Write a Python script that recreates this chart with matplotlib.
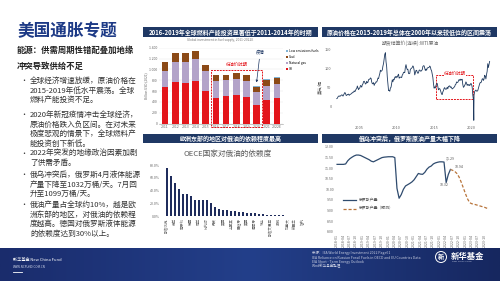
import matplotlib

matplotlib.use("Agg")
import matplotlib.pyplot as plt
import numpy as np
from matplotlib.colors import LinearSegmentedColormap
from matplotlib.patches import Circle, Rectangle

plt.rcParams["font.family"] = ["Noto Sans CJK SC", "DejaVu Sans"]

W, H = 500, 281
NAVY = "#1f3864"

# --- global investment in fuel supply, billion USD (2021)
inv_years = ["2011", "2012", "2013", "2014", "2015", "2016", "2017", "2018", "2019", "2020", "2021", "2022E"]
inv_oil = [667, 767, 748, 785, 611, 473, 505, 537, 499, 350, 436, 473]
inv_gas = [311, 374, 393, 406, 356, 312, 293, 291, 286, 230, 256, 262]
inv_coal = [155, 166, 160, 148, 120, 104, 101, 102, 112, 98, 116, 113]
inv_low = [2, 2, 2, 2, 3, 3, 4, 5, 6, 8, 9, 12]

# --- WTI continuous futures settlement, USD/bbl, monthly from 2002-01
wti_start = 2002
wti = [
    19.7, 20.7, 24.4, 26.2, 27.0, 25.5, 26.9, 28.4, 29.7, 28.9, 26.3, 29.4,
    32.9, 35.9, 33.6, 28.3, 28.1, 30.7, 30.8, 31.6, 28.3, 30.3, 31.1, 32.2,
    34.3, 34.7, 36.8, 36.7, 40.3, 38.0, 40.7, 44.9, 45.9, 53.1, 48.5, 43.3,
    46.8, 48.0, 54.3, 53.0, 50.0, 56.5, 58.7, 64.9, 65.6, 62.4, 58.3, 59.4,
    65.5, 61.6, 62.9, 69.7, 70.9, 71.0, 74.4, 73.1, 63.9, 59.1, 59.0, 62.0,
    54.6, 59.3, 60.4, 64.0, 63.5, 67.5, 74.1, 72.4, 79.9, 85.8, 94.8, 91.7,
    93.0, 95.4, 105.5, 112.6, 125.4, 137.0, 141.0, 116.7, 104.1, 76.6, 57.3, 41.1,
    41.7, 39.1, 47.9, 49.7, 59.0, 69.6, 64.2, 71.1, 69.4, 75.7, 78.0, 74.5,
    78.3, 76.4, 81.2, 84.3, 73.7, 75.3, 76.3, 76.6, 75.2, 81.9, 84.3, 89.2,
    89.2, 88.6, 102.9, 109.5, 100.9, 96.3, 97.3, 86.3, 85.5, 86.3, 97.2, 98.6,
    100.3, 102.2, 106.2, 103.3, 94.7, 82.3, 87.9, 94.1, 94.5, 89.5, 86.5, 87.9,
    94.8, 95.3, 92.9, 92.0, 94.5, 95.8, 104.6, 106.6, 106.3, 100.5, 93.9, 97.6,
    94.6, 100.8, 100.8, 102.1, 102.2, 105.8, 103.6, 96.5, 93.2, 84.4, 75.8, 59.3,
    47.2, 50.6, 47.8, 54.5, 59.3, 59.8, 50.9, 42.9, 45.5, 46.2, 42.4, 37.2,
    31.7, 30.3, 37.5, 40.8, 46.7, 48.8, 44.7, 44.7, 45.2, 49.8, 45.7, 52.0,
    52.5, 53.5, 49.3, 51.1, 48.5, 45.2, 46.6, 48.0, 49.8, 51.6, 56.6, 57.9,
    63.7, 62.2, 62.7, 66.3, 70.0, 67.9, 71.0, 68.1, 70.2, 70.8, 57.0, 49.5,
    51.4, 55.0, 58.2, 63.9, 60.8, 54.7, 57.4, 54.8, 57.0, 54.0, 57.0, 59.9,
    57.5, 50.5, 29.2, 16.6, 28.6, 38.3, 40.7, 42.3, 39.6, 39.4, 41.0, 47.0,
    52.0, 59.0, 62.3, 61.7, 65.2, 71.4, 72.4, 67.7, 71.6, 81.5, 79.2, 71.7,
    83.2, 91.6, 112.0, 101.8, 109.6, 118.0,
]
wti_spike_t = 2020.30
wti_spike = -37.6

# --- OECD reliance on Russian oil
oecd_names = ["斯洛伐克", "立陶宛", "芬兰", "波兰", "匈牙利", "爱沙尼亚", "德国", "捷克", "荷兰",
              "拉脱维亚", "比利时", "希腊", "丹麦", "瑞典", "英国", "法国", "土耳其", "意大利",
              "西班牙", "韩国", "美国", "日本", "葡萄牙", "奥地利", "瑞士", "爱尔兰", "斯洛文尼亚",
              "卢森堡", "挪威", "冰岛", "加拿大", "澳大利亚", "新西兰", "墨西哥", "智利", "以色列"]
oecd_share = [0.756, 0.63, 0.515, 0.42, 0.346, 0.343, 0.315, 0.255, 0.25, 0.25, 0.25, 0.20,
              0.147, 0.115, 0.094, 0.09, 0.085, 0.079, 0.07, 0.065, 0.053, 0.05, 0.04, 0.03,
              0.025, 0.02, 0.015, 0.012, 0.01, 0.008, 0.005, 0.003, 0, 0, 0, 0]

# --- Russia crude + other liquids, million b/d, monthly from 2018-01
ru_start = 2018
ru_actual = [11.18, 11.18, 11.18, 11.18, 11.20, 11.35, 11.45, 11.52, 11.58, 11.62, 11.62, 11.60,
             11.55, 11.50, 11.45, 11.40, 11.33, 11.30, 11.35, 11.40, 11.45, 11.50, 11.52, 11.53,
             11.54, 11.54, 11.54, 11.50, 10.05, 9.58, 9.75, 10.00, 10.16, 10.22, 10.28, 10.35,
             10.45, 10.60, 10.75, 10.72, 10.71, 10.80, 10.95, 11.05, 11.10, 11.20, 11.25, 11.28,
             11.30, 11.30, 11.29, 10.32, 10.70, 10.94]
ru_forecast = [10.94, 10.90, 10.85, 10.75, 10.59, 10.35, 10.08, 9.80, 9.55, 9.37, 9.32, 9.30,
               9.27, 9.24, 9.21, 9.18, 9.15, 9.11, 9.07]

fig = plt.figure(figsize=(W / 100, H / 100), dpi=100)
bg = fig.add_axes([0, 0, 1, 1])
bg.axis("off")


def box(x0, y0, x1, y1):
    return [x0 / W, 1 - y1 / H, (x1 - x0) / W, (y1 - y0) / H]


def header(x0, x1, y0, y1, text):
    bg.add_patch(Rectangle((x0, y0), x1 - x0, y1 - y0, color=NAVY, lw=0))
    bg.text((x0 + x1) / 2, (y0 + y1) / 2 + 0.3, text, color="white", fontsize=4.3,
            fontweight="bold", ha="center", va="center")


# footer band
grad = np.linspace(0, 1, 256)[None, :]
cmap_f = LinearSegmentedColormap.from_list("f", ["#1a2c6c", "#233f8a", "#16275f"])
bg.imshow(grad, extent=(0, W, H, 248), cmap=cmap_f, aspect="auto", zorder=0)
bg.set_xlim(0, W)
bg.set_ylim(H, 0)

# left column text
bg.text(18, 31.5, "美国通胀专题", fontsize=12, color="#1d3a86", fontweight="bold", va="center")
bg.text(17, 50, "能源：供需周期性错配叠加地缘", fontsize=6, color="#222222", fontweight="bold", va="center")
bg.text(17, 66, "冲突导致供给不足", fontsize=6, color="#222222", fontweight="bold", va="center")

bullets = [
    (81, ["全球经济增速放缓，原油价格在", "2015-2019年低水平震荡。全球", "燃料产能投资不足。"]),
    (115, ["2020年新冠疫情冲击全球经济，", "原油价格跌入负区间。在对未来", "极度悲观的情景下，全球燃料产", "能投资创下新低。"]),
    (153.5, ["2022年突发的地缘政治因素加剧", "了供需矛盾。"]),
    (175, ["俄乌冲突后，俄罗斯4月液体能源", "产量下降至1032万桶/天。7月回", "升至1099万桶/天。"]),
    (205, ["俄油产量占全球约10%，越是欧", "洲东部的地区，对俄油的依赖程", "度越高。德国对俄罗斯液体能源", "的依赖度达到30%以上。"]),
]
for y0, lines in bullets:
    bg.text(20, y0, "•", fontsize=5, color="#333333", va="center")
    for k, line in enumerate(lines):
        bg.text(30, y0 + k * 9.6, line, fontsize=5.5, color="#333333", va="center")

# panel headers
header(143, 318, 27, 36.5, "2016-2019年全球燃料产能投资显著低于2011-2014年的时期")
header(322, 497, 27, 36.5, "原油价格在2015-2019年总体在2000年以来较低位的区间震荡")
header(143, 318, 133.5, 143, "欧洲东部的地区对俄油的依赖程度最高")
header(322, 497, 133.5, 143, "俄乌冲突后，俄罗斯原油产量大幅下降")

# panel 1: fuel supply investment
ax1 = fig.add_axes(box(159, 47.7, 283, 123.7))
x = np.arange(len(inv_years))
bottom = np.zeros(len(x))
for vals, col, lab in [(inv_oil, "#e3151b", "Oil"), (inv_gas, "#b3a3c9", "Natural gas"),
                       (inv_coal, "#8c4a17", "Coal"), (inv_low, "#7fb3d5", "Low emissions fuels")]:
    ax1.bar(x, vals, 0.65, bottom=bottom, color=col, label=lab)
    bottom += np.array(vals)
ax1.set_xlim(-0.6, 11.6)
ax1.set_ylim(0, 1400)
ticks = list(range(0, 1401, 200))
ax1.set_yticks(ticks)
ax1.set_yticklabels([f"{v:,}".replace(",", " ") for v in ticks], fontsize=2.5, color="#666666")
ax1.set_xticks(x)
ax1.set_xticklabels(inv_years, fontsize=2.5, color="#666666")
ax1.tick_params(length=0, pad=1)
for s in ["top", "right", "left"]:
    ax1.spines[s].set_visible(False)
ax1.spines["bottom"].set_color("#999999")
ax1.spines["bottom"].set_linewidth(0.4)
ax1.yaxis.grid(True, color="#e6e6e6", lw=0.3)
ax1.set_axisbelow(True)
ax1.set_ylabel("Billion USD (2021)", fontsize=2.3, color="#666666", labelpad=1)
h, l = ax1.get_legend_handles_labels()
ax1.legend(h[::-1], l[::-1], loc="upper left", bbox_to_anchor=(1.01, 1.0), fontsize=2.3,
           frameon=False, handlelength=0.6, handleheight=0.6, labelspacing=0.6,
           borderpad=0, handletextpad=0.4)
ax1.add_patch(Rectangle((4.55, -60), 5.0, 1044, fill=False, ls=(0, (2, 1)), ec="#e3151b",
                        lw=0.7, clip_on=False))
ax1.text(7.1, 1095, "低油价时期", fontsize=3.2, color="#e3151b", ha="center", va="center")
ax1.annotate("疫情", xy=(9.0, 760), xytext=(9.35, 1310), fontsize=3.2, color=NAVY,
             ha="center", va="center", annotation_clip=False,
             arrowprops=dict(arrowstyle="-|>", color=NAVY, lw=0.5, mutation_scale=3,
                             shrinkA=1, shrinkB=0))
bg.text(220, 40.5, "Global investment in fuel supply, 2011-2022E", fontsize=2.3,
        color="#777777", ha="center", va="center")

# panel 2: WTI
ax2 = fig.add_axes(box(333, 49.3, 494, 125))
t = wti_start + np.arange(len(wti)) / 12
ins = np.searchsorted(t, wti_spike_t)
t_all = np.insert(t, ins, wti_spike_t)
v_all = np.insert(np.array(wti), ins, wti_spike)
ax2.plot(t_all, v_all, color="#1f3a5f", lw=0.6)
ax2.set_xlim(2001.5, 2023)
ax2.set_ylim(-50, 150)
ax2.set_yticks([0, 50, 100, 150])
ax2.set_xticks([2005, 2010, 2015, 2020])
ax2.tick_params(labelsize=2.8, labelcolor="#666666", length=0, pad=1)
for s in ax2.spines.values():
    s.set_visible(False)
ax2.set_ylabel("美元/桶", fontsize=3, color="#555555", labelpad=2)
ax2.add_patch(Rectangle((2015.32, 17.6), 4.88, 64, fill=False, ls=(0, (2, 1)), ec="#e3151b", lw=0.7))
ax2.text(2017.8, 86, "低油价时期", fontsize=3.2, color="#e3151b", ha="center", va="center",
         bbox=dict(fc="white", ec="none", pad=0.3))
bg.text(410, 43.5, "期货结算价(连续):WTI原油", fontsize=3.5, color="#666666", ha="center", va="center")

# panel 3: OECD reliance
ax3 = fig.add_axes(box(162, 165.2, 311, 216))
ax3.bar(np.arange(len(oecd_share)), oecd_share, 0.55, color="#1f2c5c")
ax3.set_xlim(-1.25, 36)
ax3.set_ylim(0, 0.8)
ax3.set_yticks([0, 0.2, 0.4, 0.6, 0.8])
ax3.set_yticklabels(["0.0%", "20.0%", "40.0%", "60.0%", "80.0%"])
ax3.set_xticks(np.arange(0, len(oecd_names), 2))
ax3.set_xticklabels(oecd_names[::2], rotation=90)
ax3.tick_params(labelsize=2.6, labelcolor="#666666", length=0, pad=1.5)
for s in ax3.spines.values():
    s.set_visible(False)
bg.text(228, 154, "OECE国家对俄油的依赖度", fontsize=5.5, color="#595959", ha="center", va="center")

# panel 4: Russia production
ax4 = fig.add_axes(box(336, 147, 490, 231.7))
n_act = len(ru_actual)
ax4.plot(np.arange(n_act), ru_actual, color="#2f4b6e", lw=0.9, label="俄罗斯产量")
ax4.plot(np.arange(n_act - 1, n_act - 1 + len(ru_forecast)), ru_forecast, color="#b8743a",
         lw=0.9, ls=(0, (2.5, 1.5)), label="俄罗斯产量（预测）")
n_all = n_act - 1 + len(ru_forecast)
ax4.set_xlim(-0.5, n_all - 0.5)
ax4.set_ylim(8, 12)
ax4.set_yticks(np.arange(8, 12.01, 0.5))
ax4.set_yticklabels([f"{v:.2f}" for v in np.arange(8, 12.01, 0.5)])
mt = np.arange(0, n_all, 3)
ax4.set_xticks(mt)
ax4.set_xticklabels([f"{ru_start + m // 12}-{m % 12 + 1:02d}" for m in mt], rotation=90)
ax4.tick_params(labelsize=2.6, labelcolor="#666666", length=0, pad=1.5)
for s in ax4.spines.values():
    s.set_visible(False)
for idx, dx, dy in [(50, 3, 10), (51, -1, -10), (53, 4, 8)]:
    val = ru_actual[idx]
    ax4.annotate(f"{val:.2f}", xy=(idx, val), xytext=(idx + dx, val + dy * 0.012),
                 fontsize=2.6, color="#555555", ha="center", va="center",
                 arrowprops=dict(arrowstyle="-", color="#999999", lw=0.3))
ax4.legend(loc="upper left", bbox_to_anchor=(0.03, 0.42), fontsize=2.8, frameon=False,
           handlelength=3.5, labelspacing=1.2, borderpad=0, labelcolor="#555555")
bg.text(406, 150.5, "俄罗斯原油及其他液体能源产量（百万桶/天）", fontsize=3.5, color="#666666",
        ha="center", va="center")

# footer text
bg.text(13, 260, "新华基金 New China Fund", fontsize=3, color="white", style="italic", va="center")
bg.text(13, 266.5, "WWW.NCFUND.COM.CN", fontsize=2.2, color="#d0d6ea", va="center")
bg.plot([13, 22], [271.5, 271.5], color="white", lw=0.6)
sources = ["来源：IEA World Energy Investment 2022 Page61",
           "IEA Reliance on Russian Fossil Fuels in OECD and EU Countries Data",
           "EIA Short - Term Energy Outlook",
           "Wind新华基金整理"]
for k, line in enumerate(sources):
    bg.text(312, 253.3 + k * 4.3, line, fontsize=2.5, color="#c8cde0", style="italic", va="center")
bg.add_patch(Circle((441, 257), 5.5, fill=False, ec="white", lw=0.7))
bg.text(441, 257, "新", fontsize=4.5, color="white", ha="center", va="center", fontweight="bold")
bg.text(451, 256.5, "新华基金", fontsize=6, color="white", fontweight="bold", va="center")
bg.text(452, 262, "NEW  CHINA  FUND", fontsize=1.6, color="#d0d6ea", va="center")

fig.savefig("out.png", dpi=100)
